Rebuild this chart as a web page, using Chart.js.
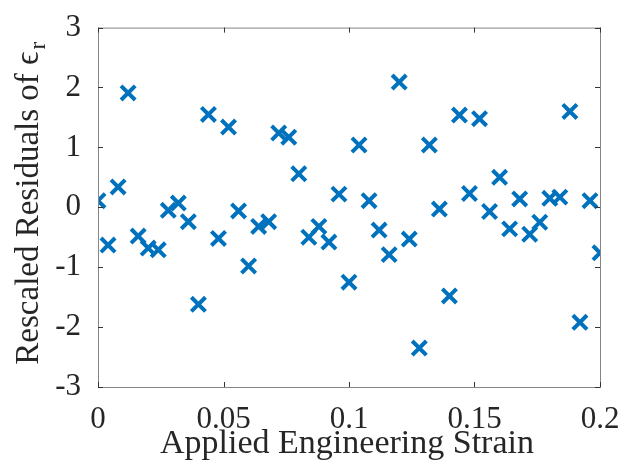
<!DOCTYPE html>
<html>
<head>
<meta charset="utf-8">
<script src="https://cdn.jsdelivr.net/npm/chart.js@4/dist/chart.umd.min.js"></script>
<style>
  html, body { margin: 0; padding: 0; background: #fff; }
  #wrap { width: 636px; height: 471px; }
</style>
</head>
<body>
<div id="wrap"><canvas id="residuals"></canvas></div>
<script>
// strain values (x) and rescaled residuals (y)
const strain = [
  0.000, 0.004, 0.008, 0.012, 0.016, 0.020, 0.024, 0.028, 0.032, 0.036,
  0.040, 0.044, 0.048, 0.052, 0.056, 0.060, 0.064, 0.068, 0.072, 0.076,
  0.080, 0.084, 0.088, 0.092, 0.096, 0.100, 0.104, 0.108, 0.112, 0.116,
  0.120, 0.124, 0.128, 0.132, 0.136, 0.140, 0.144, 0.148, 0.152, 0.156,
  0.160, 0.164, 0.168, 0.172, 0.176, 0.180, 0.184, 0.188, 0.192, 0.196,
  0.200
];
const residuals = [
  0.11, -0.63, 0.34, 1.91, -0.48, -0.68, -0.71, -0.05, 0.07, -0.24,
  -1.62, 1.55, -0.52, 1.34, -0.06, -0.98, -0.32, -0.24, 1.24, 1.17,
  0.56, -0.50, -0.32, -0.58, 0.22, -1.25, 1.04, 0.11, -0.38, -0.79,
  2.09, -0.53, -2.35, 1.04, -0.03, -1.48, 1.54, 0.23, 1.48, -0.07,
  0.50, -0.36, 0.14, -0.45, -0.25, 0.15, 0.17, 1.60, -1.92, 0.11,
  -0.76
];
const xTicks = [0, 0.05, 0.1, 0.15, 0.2];
const yTicks = [-3, -2, -1, 0, 1, 2, 3];
const xTitle = 'Applied Engineering Strain';
const yTitle = 'Rescaled Residuals of \u03F5';
const yTitleSub = 'r';

const serif = "'Liberation Serif', 'DejaVu Serif', serif";
const axisGray = '#868686';
const textColor = '#262626';

// MATLAB-style box: full frame with inward ticks on all four sides, plus both axis titles
const boxPlugin = {
  id: 'box',
  afterDraw(chart) {
    const ctx = chart.ctx;
    const { left, right, top, bottom } = chart.chartArea;
    const xs = chart.scales.x, ys = chart.scales.y;
    ctx.save();
    ctx.strokeStyle = axisGray;
    ctx.lineWidth = 1;
    ctx.strokeRect(left + 0.5, top + 0.5, right - left, bottom - top);
    ctx.strokeStyle = '#333';
    ctx.beginPath();
    xTicks.forEach(v => {
      const px = Math.round(xs.getPixelForValue(v)) + 0.5;
      ctx.moveTo(px, bottom); ctx.lineTo(px, bottom - 5);
      ctx.moveTo(px, top); ctx.lineTo(px, top + 5);
    });
    yTicks.forEach(v => {
      const py = Math.round(ys.getPixelForValue(v)) + 0.5;
      ctx.moveTo(left, py); ctx.lineTo(left + 5, py);
      ctx.moveTo(right, py); ctx.lineTo(right - 5, py);
    });
    ctx.stroke();

    ctx.fillStyle = textColor;
    ctx.textBaseline = 'alphabetic';

    // x axis title
    ctx.textAlign = 'center';
    ctx.font = '34px ' + serif;
    ctx.fillText(xTitle, (left + right) / 2 - 2, 453);

    // y axis title, rotated, with subscript r
    ctx.textAlign = 'left';
    ctx.translate(38, (top + bottom) / 2 - 4);
    ctx.rotate(-Math.PI / 2);
    ctx.font = '33px ' + serif;
    const w1 = ctx.measureText(yTitle).width;
    ctx.font = '23px ' + serif;
    const w2 = ctx.measureText(yTitleSub).width;
    const start = -(w1 + w2 + 2) / 2;
    ctx.font = '33px ' + serif;
    ctx.fillText(yTitle, start, 0);
    ctx.font = '23px ' + serif;
    ctx.fillText(yTitleSub, start + w1 + 2, 7);
    ctx.restore();
  }
};

new Chart(document.getElementById('residuals'), {
  type: 'scatter',
  data: {
    datasets: [{
      label: 'Residuals',
      data: strain.map((s, i) => ({ x: s, y: residuals[i] })),
      pointStyle: 'crossRot',
      pointRadius: 10,
      pointBorderWidth: 4,
      borderColor: '#0072BD',
      backgroundColor: '#0072BD'
    }]
  },
  options: {
    responsive: true,
    maintainAspectRatio: false,
    animation: false,
    layout: { padding: { top: 15, right: 36, left: 0, bottom: 0 } },
    plugins: {
      legend: { display: false },
      tooltip: { enabled: false }
    },
    scales: {
      x: {
        type: 'linear',
        min: 0,
        max: 0.2,
        grid: { display: false },
        border: { display: false },
        afterBuildTicks: scale => { scale.ticks = xTicks.map(v => ({ value: v })); },
        afterFit: scale => { scale.height = 84; },
        ticks: {
          padding: 6,
          color: textColor,
          font: { family: serif, size: 31 },
          callback: v => String(v)
        }
      },
      y: {
        min: -3,
        max: 3,
        grid: { display: false },
        border: { display: false },
        afterBuildTicks: scale => { scale.ticks = yTicks.map(v => ({ value: v })); },
        afterFit: scale => { scale.width = 98; },
        ticks: {
          padding: 9,
          color: textColor,
          font: { family: serif, size: 31 }
        }
      }
    }
  },
  plugins: [boxPlugin]
});
</script>
</body>
</html>
